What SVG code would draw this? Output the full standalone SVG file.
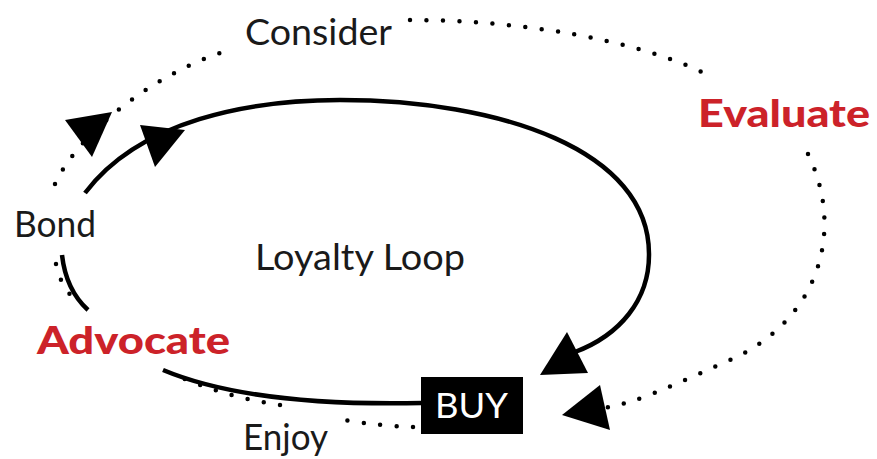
<svg xmlns="http://www.w3.org/2000/svg" width="877" height="459" viewBox="0 0 877 459">
<style>
.lbl{font-family:"Lato","Liberation Sans",sans-serif;font-size:36px;fill:#1a1a1a}
.red{font-family:"Lato","Liberation Sans",sans-serif;font-size:37px;font-weight:900;fill:#cc2229}
.solid{fill:none;stroke:#000;stroke-width:4.5;stroke-linecap:butt}
.dot{fill:none;stroke:#000;stroke-width:4.5;stroke-linecap:round;stroke-dasharray:0 16.5}
.head{fill:#000}
</style>
<rect width="877" height="459" fill="#fff"/>
<g id="connectors">
  <g id="dotted-loop">
    <path class="dot" d="M410,20 C520,20 640,40 710,76"/>
    <path class="dot" d="M808,154 C845,230 820,320 730,360 S640,400 605,408"/>
    <polygon class="head" points="562,415 600,385 610,430"/>
    <path class="dot" d="M413,427 Q380,426 345,420"/>
    <path class="dot" d="M280,405 Q230,398 180,377"/>
    <path class="dot" d="M56,264 Q60,285 75,300"/>
    <path class="dot" d="M55,184 C80,130 160,70 230,50"/>
    <polygon class="head" points="65,120 112,112 92,157"/>
  </g>
  <g id="solid-loop">
    <path class="solid" d="M422,403 C330,405 230,398 163,370"/>
    <path class="solid" d="M62,255 Q66,290 88,310"/>
    <path class="solid" d="M85,193 C140,120 250,100 340,100 C500,100 650,150 649,255 C649,300 620,335 575,352"/>
    <polygon class="head" points="185,130 140,125 155,167"/>
    <polygon class="head" points="540,375 567,332 588,373"/>
  </g>
</g>
<g id="consider"><text class="lbl" x="245" y="45" textLength="147" lengthAdjust="spacingAndGlyphs">Consider</text></g>
<g id="evaluate"><text class="red" x="698" y="127" textLength="172" lengthAdjust="spacingAndGlyphs">Evaluate</text></g>
<g id="bond"><text class="lbl" x="14" y="237" font-size="34" textLength="82" lengthAdjust="spacingAndGlyphs">Bond</text></g>
<g id="loyalty-loop"><text class="lbl" x="255" y="270" textLength="210" lengthAdjust="spacingAndGlyphs">Loyalty Loop</text></g>
<g id="advocate"><text class="red" x="37" y="354" textLength="193" lengthAdjust="spacingAndGlyphs">Advocate</text></g>
<g id="enjoy"><text class="lbl" x="243" y="450" textLength="85" lengthAdjust="spacingAndGlyphs">Enjoy</text></g>
<g id="buy">
  <rect x="421" y="377" width="102" height="57" fill="#000"/>
  <text x="435" y="418" font-family="Lato, 'Liberation Sans', sans-serif" font-size="35" fill="#fff" textLength="73" lengthAdjust="spacingAndGlyphs">BUY</text>
</g>
</svg>
